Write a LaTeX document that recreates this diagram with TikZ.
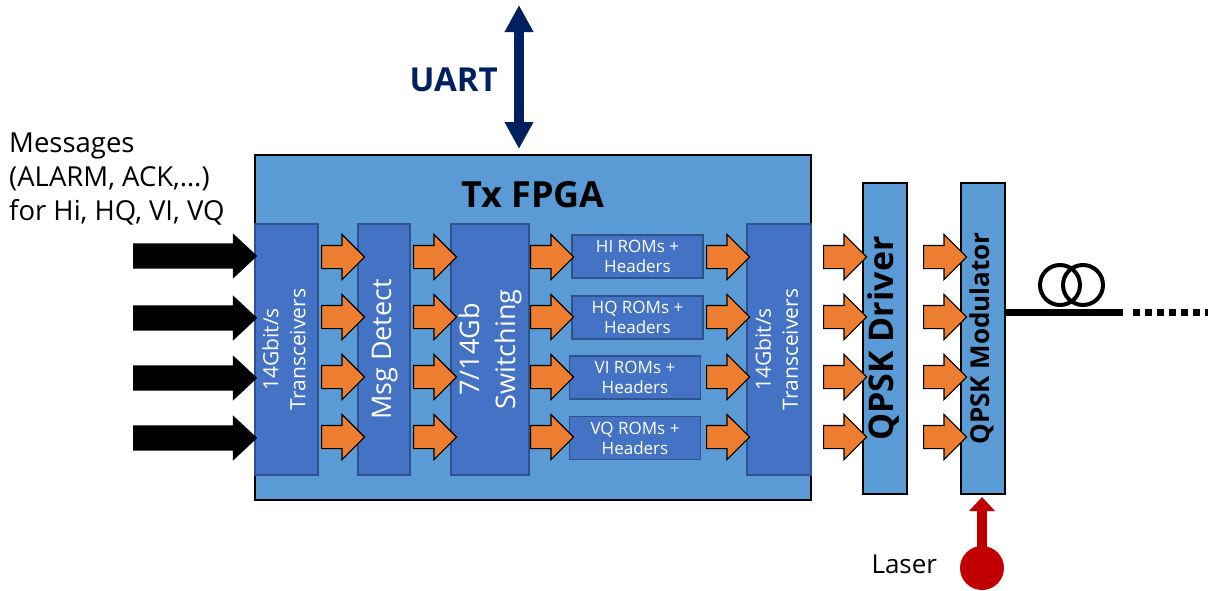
\documentclass[tikz,border=0pt]{standalone}
\usepackage{fontspec}
\setmainfont{Open Sans}
\usetikzlibrary{shapes.arrows, arrows.meta, positioning, calc}

\definecolor{fpgablue}{HTML}{5B9BD5}
\definecolor{blkblue}{HTML}{4472C4}
\definecolor{blkedge}{HTML}{2F528F}
\definecolor{orng}{HTML}{ED7D31}
\definecolor{navy}{HTML}{002060}
\definecolor{laserred}{HTML}{C00000}

\newcommand{\vtext}[1]{\rotatebox{90}{\begin{tabular}{@{}c@{}}#1\end{tabular}}}

\begin{document}
\begin{tikzpicture}[
    x=1pt, y=-1pt,
    fpgabox/.style={rectangle, draw=black, line width=2pt, fill=fpgablue, inner sep=0pt},
    blkbox/.style={rectangle, draw=blkedge, line width=1.2pt, fill=blkblue, inner sep=0pt, text=white, minimum height=251pt},
    rombox/.style={blkbox, minimum height=43pt, minimum width=131pt, align=center, font=\fontsize{17}{20}\selectfont},
    qpskbox/.style={rectangle, draw=black, line width=2pt, fill=fpgablue, inner sep=0pt, minimum width=44pt, minimum height=311pt},
    orarrow/.style={single arrow, anchor=tail, draw=black, line width=1.2pt, fill=orng, minimum height=43pt, inner xsep=0pt, inner ysep=11pt, single arrow head extend=11pt},
    inarrow/.style={single arrow, anchor=tail, fill=black, minimum height=124pt, inner xsep=0pt, inner ysep=12.5pt, single arrow head extend=10pt, single arrow tip angle=86}
]
\useasboundingbox (0,0) rectangle (1208,590);

% FPGA
\node[fpgabox, minimum width=556pt, minimum height=345pt] (fpga) at (533,327.5) {};
\node[anchor=base, font=\fontsize{36}{40}\selectfont\bfseries] (fpgatitle) at (533,207) {Tx FPGA};

% Blocks inside the FPGA
\node[blkbox, minimum width=63pt] (trL) at (286.5,349.5) {\fontsize{21}{27}\selectfont\vtext{14Gbit/s\\Transceivers}};
\node[blkbox, minimum width=52pt] (msg) at (384,349.5) {\fontsize{27}{36}\selectfont\vtext{Msg Detect}};
\node[blkbox, minimum width=78pt] (sw) at (490,349.5) {\fontsize{27}{36}\selectfont\vtext{7/14Gb\\Switching}};
\node[rombox] (romHI) at (637.5,256.5) {HI ROMs +\\Headers};
\node[rombox] (romHQ) at (637.5,317.5) {HQ ROMs +\\Headers};
\node[rombox] (romVI) at (635,377.5) {VI ROMs +\\Headers};
\node[rombox] (romVQ) at (635,438) {VQ ROMs +\\Headers};
\node[blkbox, minimum width=64pt] (trR) at (779,349.5) {\fontsize{21}{27}\selectfont\vtext{14Gbit/s\\Transceivers}};

% QPSK
\node[qpskbox] (drv) at (885,338.5) {\fontsize{34}{40}\selectfont\bfseries\vtext{QPSK Driver}};
\node[qpskbox] (mod) at (983,338.5) {\fontsize{26}{30}\selectfont\bfseries\vtext{QPSK Modulator}};

% Data arrows
\foreach \y in {257,317,377,437} {
  \foreach \x in {321,413,530,706,823,923} {
    \node[orarrow] (or\x-\y) at (\x,\y) {};
  }
}
\foreach \y in {256,318,378,438} {
  \node[inarrow] (in\y) at (133,\y) {};
}

% Messages
\node[anchor=north west, align=left, inner sep=0pt, font=\fontsize{27.5}{34}\selectfont] (msgs) at (9,133) {Messages\\(ALARM, ACK,\ldots)\\for Hi, HQ, VI, VQ};

% UART
\coordinate (uarttop) at (519,5);
\draw[navy, line width=10pt, {Triangle[length=27pt,width=27pt]}-{Triangle[length=27pt,width=27pt]}, shorten >=5pt] (uarttop) -- (uarttop |- fpga.north);
\node[anchor=base west, text=navy, font=\fontsize{33}{36}\selectfont\bfseries] (uart) at (406,91) {UART};

% Fiber
\coordinate (fibend) at (1123,312);
\draw[line width=7pt] (mod.east |- fibend) -- (fibend);
\draw[line width=4pt] (1060,285) circle[radius=20pt] (1083,285) circle[radius=20pt];
\draw[line width=7pt, dash pattern=on 7pt off 5pt] ([xshift=10pt]fibend) -- (1208,312);

% Laser
\node[circle, fill=laserred, minimum size=44pt, inner sep=0pt] (laser) at (982,568) {};
\draw[laserred, line width=10pt, -{Triangle[length=14pt,width=25pt]}, shorten >=2pt] (laser.center) -- (laser.center |- mod.south);
\node[anchor=base west, font=\fontsize{26}{30}\selectfont] (lasertxt) at (868,573) {Laser};

\end{tikzpicture}
\end{document}
